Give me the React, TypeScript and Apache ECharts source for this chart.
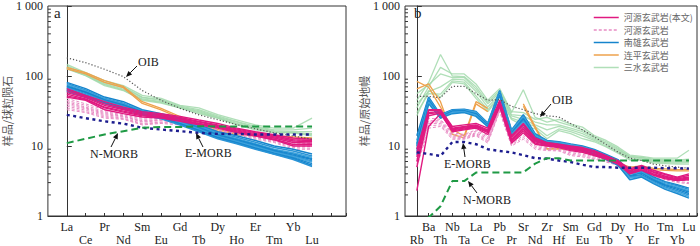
import React, { useEffect, useRef } from 'react';
import * as echarts from 'echarts';

// ---------- categories ----------
const reeElements = ['La', 'Ce', 'Pr', 'Nd', 'Sm', 'Eu', 'Gd', 'Tb', 'Dy', 'Ho', 'Er', 'Tm', 'Yb', 'Lu'];
const traceElements = ['Rb', 'Ba', 'Th', 'Nb', 'Ta', 'La', 'Ce', 'Pb', 'Pr', 'Sr', 'Nd', 'Zr', 'Hf', 'Sm', 'Eu', 'Gd', 'Tb', 'Dy', 'Y', 'Ho', 'Er', 'Tm', 'Yb', 'Lu'];
const yTickLabels = ['1', '10', '100', '1 000'];
const legendNames = ['河源玄武岩(本文)', '河源玄武岩', '南雄玄武岩', '连平玄武岩', '三水玄武岩'];

// ---------- panel a: chondrite-normalised REE ----------
const reeHeyuanThis = [
  [66, 53, 43, 36, 31, 29, 26.5, 23.5, 21, 18, 16, 14.5, 13, 12.5],
  [62, 51, 40, 34, 30, 28, 25.5, 22.5, 20, 17.5, 15.5, 14, 12.3, 12],
  [58, 49, 38, 33, 29, 27, 24.5, 22, 19.5, 17, 15, 13.5, 11.8, 11.5],
  [55, 47, 36, 31.5, 28, 26, 24, 21, 19, 16.5, 14.5, 13, 11.2, 11],
  [52, 46, 35, 30.5, 27, 25.5, 23, 20.5, 18.5, 16, 14, 12.5, 10.5, 10.5],
  [50, 45, 33, 29, 26, 25, 22.5, 20, 18, 15.5, 13.9, 12.2, 10, 10],
];
const reeHeyuanOther = [
  [48, 40, 33, 29, 25, 26, 25, 22.5, 20, 17, 15.4, 13.9, 12.5, 12.5],
  [45, 38, 31, 28, 24, 25, 24, 21.5, 19.5, 16.5, 15, 13.5, 12, 12],
  [43, 36, 30, 27, 23, 24, 23, 21, 19, 16.3, 14.5, 13, 11.5, 11.3],
  [41, 35, 29, 26.5, 22.5, 23.5, 22.5, 20.5, 18.5, 16, 14, 12.6, 11, 10.8],
  [39, 34, 28, 26, 22, 23, 22, 20, 18, 15.5, 13.6, 12.2, 10.5, 10.3],
  [37, 32.5, 27, 25, 21, 22, 21.5, 19.5, 17.5, 15.2, 13.2, 11.8, 10, 9.8],
  [35, 31, 26, 24.5, 20.5, 21.5, 21, 19, 17, 15, 13, 11.5, 9.5, 9.3],
  [33, 30, 25, 24, 20, 21, 20, 18, 16.3, 14.6, 12.5, 11.2, 9, 9],
];
const reeNanxiong = [
  [81, 66, 50, 43, 33, 29, 25, 20, 16, 14, 12, 10, 9, 7.7],
  [78, 63, 48, 41, 32, 28, 24, 19.5, 15.5, 13.3, 11.3, 9.5, 8.5, 7.2],
  [75, 61, 47, 40, 31.5, 27.5, 23.5, 19, 15, 12.8, 10.8, 9, 8, 6.9],
  [72, 59, 46, 39, 31, 27, 23, 18.5, 14.6, 12.4, 10.5, 8.7, 7.7, 6.6],
  [70, 58, 45, 38, 30.5, 26.5, 22.5, 18, 14.2, 12, 10.2, 8.5, 7.4, 6.4],
  [68, 56, 44, 37, 30, 26, 22, 17.6, 13.9, 11.8, 9.9, 8.3, 7.2, 6.1],
  [66, 54, 43, 36, 29.5, 26, 21.5, 17.2, 13.6, 11.5, 9.7, 8.1, 7, 5.9],
  [64, 53, 42, 35, 29, 25.5, 21, 16.8, 13.3, 11.2, 9.4, 7.9, 6.8, 5.6],
  [62, 51, 41, 34.5, 28.5, 25, 20.5, 16.5, 13, 11, 9.2, 7.7, 6.6, 5.3],
  [60, 50, 40, 34, 28, 24.5, 20, 16, 12.7, 10.8, 9, 7.6, 6.4, 5.1],
];
const reeLianping = [
  [133, 112, 86, 71, 43, 34.5, 26.4, 21.3, 17.2, 15.5, 14.6, 13.9, 13.5, 13.1],
  [126, 107, 81, 68, 40.6, 32.8, 25, 20.2, 16.3, 14.6, 13.9, 13.5, 12.8, 12.5],
];
const reeSanshui = [
  [147, 112, 86, 73, 53, 48, 38, 35, 28, 23.7, 20, 18, 18, 25],
  [140, 108, 82, 70, 50, 46, 37, 33, 27, 22.5, 19, 17, 17, 18],
  [135, 105, 80, 68, 49, 45, 36, 32, 26, 22, 18.5, 16.5, 16, 16],
  [130, 103, 77, 65, 47, 43, 35.5, 31, 25.5, 21, 18, 16, 15.5, 15],
  [128, 102, 75, 63, 46, 42, 35, 30, 25, 20.5, 17.5, 15.7, 15.4, 14.5],
  [126, 101, 73, 62, 45, 41, 35, 29, 25, 20, 17, 15.5, 15.4, 14],
];
const reeOIB = [182, 155, 125, 98, 62, 45, 34.5, 27.9, 23.7, 20.2, 17.6, 15.4, 13.9, 12.5];
const reeEMORB = [27.9, 25, 22.5, 20.9, 18.2, 17.2, 16.3, 15.4, 14.9, 14.9, 14.6, 14.6, 14.6, 14.6];
const reeNMORB = [11, 12.7, 14.6, 16.3, 18.2, 18.7, 18.7, 19.2, 19, 19, 19, 19, 19, 19];

// ---------- panel b: primitive-mantle-normalised trace elements ----------
const traceHeyuanThis = [
  [9, 33, 33, 19, 20, 21, 18, 45, 14, 21, 13, 11.2, 10.6, 10, 9.5, 8.6, 7.3, 6.2, 4.7, 5.3, 4.5, 4.0, 3.6, 4.0],
  [8, 32, 32, 18, 19, 20, 17, 43, 13.3, 20, 12.5, 11, 10.4, 9.8, 9.2, 8.3, 7.1, 6.0, 4.5, 5.1, 4.3, 3.9, 3.5, 3.8],
  [7, 30, 31, 17.5, 18.5, 19.5, 16.5, 41, 12.5, 18.5, 12, 10.7, 10.2, 9.5, 9, 8.1, 7.0, 5.9, 4.4, 4.9, 4.2, 3.7, 3.4, 3.6],
  [6, 29, 30, 17, 18, 19, 16, 40, 12, 17.5, 11.5, 10.5, 10, 9.2, 8.7, 7.8, 6.8, 5.8, 4.2, 4.8, 4.0, 3.6, 3.3, 3.5],
  [5, 27, 29.5, 16.5, 17.5, 18.5, 15.5, 38, 11.5, 16.5, 11, 10.2, 9.7, 8.9, 8.4, 7.5, 6.6, 5.6, 4.1, 4.6, 3.9, 3.5, 3.2, 3.4],
  [2.3, 19, 29, 16, 17, 18, 14.6, 36.5, 11, 15.5, 10.6, 10, 9.5, 8.6, 8.1, 7.3, 6.5, 5.5, 4.0, 4.5, 3.8, 3.4, 3.2, 3.3],
];
const traceHeyuanOther = [
  [8, 25, 24, 15.5, 14.6, 17, 14, 38, 12.5, 17, 11.8, 10, 10, 9, 8.8, 7.8, 7, 6, 4.8, 5.2, 4.5, 4, 3.6, 3.8],
  [7, 23, 23, 14.8, 14, 16.3, 13.3, 36, 12, 16, 11.2, 9.7, 9.6, 8.6, 8.4, 7.5, 6.7, 5.8, 4.6, 5, 4.3, 3.8, 3.5, 3.6],
  [6.5, 22, 22, 14, 13.5, 15.5, 12.7, 34.5, 11.3, 15, 10.6, 9.4, 9.3, 8.3, 8, 7.2, 6.5, 5.7, 4.4, 4.8, 4.1, 3.7, 3.3, 3.4],
  [6, 21, 21, 13.5, 13.2, 15, 12, 33, 10.8, 14, 10, 9.1, 9, 8, 7.6, 7, 6.2, 5.5, 4.3, 4.6, 4, 3.5, 3.2, 3.2],
  [5.5, 19.5, 20, 13, 12.8, 14.5, 11.5, 32, 10.4, 13.2, 9.5, 8.8, 8.7, 7.6, 7.3, 6.7, 6, 5.4, 4.1, 4.4, 3.8, 3.4, 3.1, 3.0],
  [5, 18, 19, 12.5, 12.5, 14, 11, 31, 10, 12.5, 9, 8.6, 8.5, 7.3, 7, 6.5, 5.9, 5.3, 4, 4.2, 3.7, 3.3, 3, 2.9],
];
const traceNanxiong = [
  [14, 50, 28, 33, 33.5, 31, 21.3, 62, 17, 28, 15, 12, 11.5, 10.7, 10, 8.9, 7.6, 6.4, 4.3, 4.5, 3.6, 3.1, 2.8, 2.5],
  [12, 48, 27.5, 32.5, 33, 30.5, 21, 60, 16.5, 27, 14.5, 11.8, 11.3, 10.5, 9.8, 8.7, 7.4, 6.2, 4.1, 4.3, 3.5, 3.0, 2.7, 2.4],
  [11, 46, 27, 32, 32.5, 30, 20.5, 58, 16, 26, 14, 11.5, 11, 10.3, 9.6, 8.5, 7.2, 6.0, 4.0, 4.2, 3.4, 2.9, 2.6, 2.3],
  [10.5, 45, 26.5, 31.5, 32, 29, 20, 57, 15.5, 25, 13.5, 11.2, 10.7, 10, 9.4, 8.3, 7.0, 5.9, 3.8, 4.1, 3.3, 2.8, 2.5, 2.2],
  [10, 44, 26, 31, 31.5, 28.5, 19.8, 56, 15, 24, 13.2, 11, 10.5, 9.8, 9.2, 8.1, 6.8, 5.7, 3.7, 3.9, 3.2, 2.7, 2.4, 2.1],
  [9, 43, 25.5, 30.5, 31, 28, 19.5, 55, 14.8, 23, 12.8, 10.8, 10.2, 9.6, 9, 7.9, 6.7, 5.6, 3.6, 3.8, 3.1, 2.6, 2.3, 2.0],
  [8.5, 42, 25, 30, 30.5, 27.5, 19, 54, 14.5, 22, 12.5, 10.5, 10, 9.4, 8.8, 7.8, 6.5, 5.4, 3.5, 3.7, 3.0, 2.5, 2.2, 1.9],
  [7.5, 40, 25, 29, 30, 26.5, 18.8, 53, 14, 20, 12, 10.3, 9.8, 9.2, 8.6, 7.6, 6.4, 5.3, 3.3, 3.6, 2.9, 2.4, 2.1, 1.8],
];
const traceLianping = [
  [84, 69, 36, 17.2, 13.9, 43, 34.5, null, null, 40, 19, 9.2, 9.3, 9, 8.5, 7.6, 6.6, 5.8, 5, 5.2, 4.8, 4.7, 4.6, 4.6],
  [65.6, 77, 43, 14.6, 13.1, 40, 31, null, null, 37, 18, 9, 9.1, 8.8, 8.3, 7.4, 6.4, 5.6, 4.8, 5, 4.6, 4.5, 4.4, 4.4],
];
const traceSanshui = [
  [45, 81, 203, 100, 98, 70, 42, 62, 30, 63.7, 25.6, 22, 24, 20.6, 18.6, 14.1, 12, 9.7, 7.4, 7.1, 6.7, 6.7, 6.7, 8.7],
  [35, 70, 133, 107, 107, 77, 45, 66, 31, 30, 24, 25.6, 22, 19.5, 17, 13.5, 11.5, 9.3, 7.1, 6.9, 6.5, 6.4, 6.3, 6.5],
  [56, 75, 107, 95, 95, 65, 40, 58, 28, 27, 22, 20, 20, 18, 16, 13, 11, 9, 7, 6.8, 6.3, 6.2, 6.1, 6.2],
  [40, 60, 70, 90, 88, 60, 36, 55, 27, 24, 20, 17, 19, 17, 15, 12.5, 10.5, 8.7, 6.8, 6.6, 6.1, 6, 5.9, 6],
  [30, 56, 55, 85, 82, 52, 33, 52, 25, 22, 19, 14, 17.5, 16, 14, 12, 10, 8.3, 6.5, 6.4, 5.9, 5.8, 5.7, 5.8],
  [27, 62, 50, 81, 77, 48, 31, 50, 24, 19.5, 17.6, 12.7, 16.6, 15, 12.7, 11.5, 9.7, 7.9, 6.3, 6.3, 5.7, 5.6, 5.5, 5.5],
];
const traceOIB = [51, 51, 49, 71, 71, 56, 45, 46, 37, 33, 29, 27, 26, 21, 17, 13.5, 10.5, 8.2, 6.7, 6.2, 5.5, 5.2, 5, 4.8];
const traceEMORB = [8.1, 7.7, 7.2, 11.4, 11.4, 10.6, 9, 8.5, 8.1, 7.4, 6.7, 6.6, 6.2, 5.9, 5.4, 5, 5, 4.9, 4.9, 4.9, 4.9, 4.8, 4.8, 4.75];
const traceNMORB = [0.88, 0.95, 1.38, 3.15, 3.15, 4.17, 4.17, 4.17, 4.17, 4.2, 5.6, 6.7, 6.7, 6.2, 6.2, 6.2, 6.2, 6.2, 6.2, 6.2, 6.2, 6.2, 6.2, 6.2];

const minorTickValues = [2, 3, 4, 5, 6, 7, 8, 9, 20, 30, 40, 50, 60, 70, 80, 90, 200, 300, 400, 500, 600, 700, 800, 900];

// ---------- styles ----------
const SERIF = '"Liberation Serif", "DejaVu Serif", serif';
const CJK = '"Noto Sans CJK SC", sans-serif';
const C_MAG = '#e01a80';
const C_PINK = '#e88cc4';
const C_BLUE = ['#1584cc', '#2a94d6', '#44a6de', '#1b8bd0'];
const C_ORANGE = '#eea24c';
const C_GREEN = '#a2d9ac';

function toPoints(vals: (number | null)[]) {
  return vals.map((v, i) => [i, v == null ? '-' : v]);
}

function groupSeries(name: string, lines: (number | null)[][], axis: number, styleFn: (i: number) => any) {
  return lines.map((vals, i) => ({
    type: 'line',
    name,
    xAxisIndex: axis,
    yAxisIndex: axis,
    data: toPoints(vals),
    symbol: 'none',
    showSymbol: false,
    silent: true,
    connectNulls: false,
    lineStyle: styleFn(i),
  }));
}

function refSeries(name: string, vals: number[], axis: number, lineStyle: any) {
  return {
    type: 'line',
    name,
    xAxisIndex: axis,
    yAxisIndex: axis,
    data: toPoints(vals),
    symbol: 'none',
    silent: true,
    z: 5,
    lineStyle,
  };
}

function minorTicks(axis: number) {
  return {
    type: 'custom',
    xAxisIndex: axis,
    yAxisIndex: axis,
    silent: true,
    clip: false,
    z: 6,
    data: minorTickValues.map((v) => [-1, v]),
    renderItem: (_p: any, api: any) => {
      const pt = api.coord([api.value(0), api.value(1)]);
      return {
        type: 'line',
        shape: { x1: pt[0], y1: pt[1], x2: pt[0] + 3, y2: pt[1] },
        style: { stroke: '#333', lineWidth: 1 },
      };
    },
  };
}

function allSeries(axis: number, data: any) {
  return [
    ...groupSeries(legendNames[4], data.sanshui, axis, () => ({ color: C_GREEN, width: 1.3, opacity: 0.85 })),
    ...groupSeries(legendNames[3], data.lianping, axis, () => ({ color: C_ORANGE, width: 1.3 })),
    ...groupSeries(legendNames[1], data.other, axis, () => ({ color: C_PINK, width: 1, type: [3, 2] })),
    ...groupSeries(legendNames[2], data.nanxiong, axis, (i) => ({ color: C_BLUE[i % C_BLUE.length], width: 1.5 })),
    ...groupSeries(legendNames[0], data.heyuan, axis, () => ({ color: C_MAG, width: 1.4 })),
    refSeries('OIB', data.oib, axis, { color: '#555', width: 1.2, type: [1.2, 2] }),
    refSeries('E-MORB', data.emorb, axis, { color: '#1d1d8f', width: 2.4, type: [3, 3.5] }),
    refSeries('N-MORB', data.nmorb, axis, { color: '#1f9a45', width: 2, type: [7, 4] }),
    minorTicks(axis),
  ];
}

function arrow(x1: number, y1: number, x2: number, y2: number) {
  const ang = Math.atan2(y2 - y1, x2 - x1);
  const L = 6;
  const W = 2.6;
  const bx = x2 - L * Math.cos(ang);
  const by = y2 - L * Math.sin(ang);
  const px = -Math.sin(ang) * W;
  const py = Math.cos(ang) * W;
  return [
    { type: 'line', silent: true, z: 20, shape: { x1, y1, x2: bx, y2: by }, style: { stroke: '#111', lineWidth: 1 } },
    {
      type: 'polygon',
      silent: true,
      z: 20,
      shape: { points: [[x2, y2], [bx + px, by + py], [bx - px, by - py]] },
      style: { fill: '#111' },
    },
  ];
}

function label(text: string, x: number, y: number, size = 12) {
  return {
    type: 'text',
    x,
    y,
    z: 20,
    silent: true,
    style: { text, fontSize: size, fontFamily: SERIF, fill: '#222', verticalAlign: 'middle' },
  };
}

function xAxisFor(idx: number, names: string[], max: number, firstOnTop: boolean) {
  return {
    type: 'value',
    gridIndex: idx,
    min: -1,
    max,
    interval: 1,
    splitLine: { show: false },
    axisLine: { show: true, onZero: false, lineStyle: { color: '#333', width: 1 } },
    axisTick: { show: true, inside: true, length: 3, lineStyle: { color: '#333' } },
    axisLabel: {
      margin: 4,
      fontFamily: SERIF,
      fontSize: 12,
      lineHeight: 13,
      color: '#222',
      showMinLabel: false,
      formatter: (v: number) => {
        if (!Number.isInteger(v) || v < 0 || v >= names.length) return '';
        const top = firstOnTop ? v % 2 === 0 : v % 2 === 1;
        return top ? names[v] : '\n' + names[v];
      },
    },
  };
}

function yAxisFor(idx: number, name: string, gap: number) {
  return {
    type: 'log',
    logBase: 10,
    gridIndex: idx,
    min: 1,
    max: 1000,
    name,
    nameLocation: 'middle',
    nameGap: gap,
    nameTextStyle: { fontFamily: CJK, fontSize: 11, color: '#555' },
    splitLine: { show: false },
    axisLine: { show: true, lineStyle: { color: '#333', width: 1 } },
    axisTick: { show: true, inside: true, length: 5, lineStyle: { color: '#333' } },
    axisLabel: {
      fontFamily: SERIF,
      fontSize: 12,
      color: '#222',
      margin: 5,
      formatter: (v: number) => yTickLabels[Math.round(Math.log10(v))] ?? '',
    },
  };
}

export default function App() {
  const ref = useRef<HTMLDivElement>(null);
  useEffect(() => {
    if (!ref.current) return;
    const chart = echarts.init(ref.current, null, { renderer: 'svg' });
    const option: any = {
      animation: false,
      backgroundColor: '#fff',
      grid: [
        { left: 44, top: 4, width: 302, height: 215, show: true, borderColor: '#333', borderWidth: 1 },
        { left: 405, top: 4, width: 293, height: 215, show: true, borderColor: '#333', borderWidth: 1 },
      ],
      xAxis: [xAxisFor(0, reeElements, 14.8, true), xAxisFor(1, traceElements, 23.68, false)],
      yAxis: [yAxisFor(0, '样品/球粒陨石', 26), yAxisFor(1, '样品/原始地幔', 36)],
      legend: {
        data: legendNames,
        orient: 'vertical',
        left: 588,
        top: 8,
        itemWidth: 25,
        itemHeight: 10,
        itemGap: 3.5,
        selectedMode: false,
        itemStyle: { color: 'rgba(0,0,0,0)', borderWidth: 0, opacity: 0 },
        lineStyle: { width: 1.5 },
        textStyle: { fontFamily: CJK, fontSize: 9, color: '#666' },
      },
      graphic: [
        label('a', 54, 13, 15),
        label('b', 414, 13, 15),
        label('OIB', 138, 62),
        ...arrow(137, 66, 126, 77),
        label('N-MORB', 90, 154),
        ...arrow(111, 147, 118, 133),
        label('E-MORB', 185, 153),
        ...arrow(203, 147, 196, 133),
        label('OIB', 552, 100),
        ...arrow(551, 104, 540, 117),
        label('E-MORB', 444, 164),
        ...arrow(465, 157, 463, 143),
        label('N-MORB', 463, 200),
        ...arrow(477, 193, 468, 181),
      ],
      series: [
        ...allSeries(0, {
          sanshui: reeSanshui,
          lianping: reeLianping,
          other: reeHeyuanOther,
          nanxiong: reeNanxiong,
          heyuan: reeHeyuanThis,
          oib: reeOIB,
          emorb: reeEMORB,
          nmorb: reeNMORB,
        }),
        ...allSeries(1, {
          sanshui: traceSanshui,
          lianping: traceLianping,
          other: traceHeyuanOther,
          nanxiong: traceNanxiong,
          heyuan: traceHeyuanThis,
          oib: traceOIB,
          emorb: traceEMORB,
          nmorb: traceNMORB,
        }),
      ],
    };
    chart.setOption(option);
    return () => chart.dispose();
  }, []);
  return (
    <div
      ref={ref}
      style={{ position: 'fixed', left: 0, top: 0, width: 700, height: 246, background: '#fff' }}
    />
  );
}
